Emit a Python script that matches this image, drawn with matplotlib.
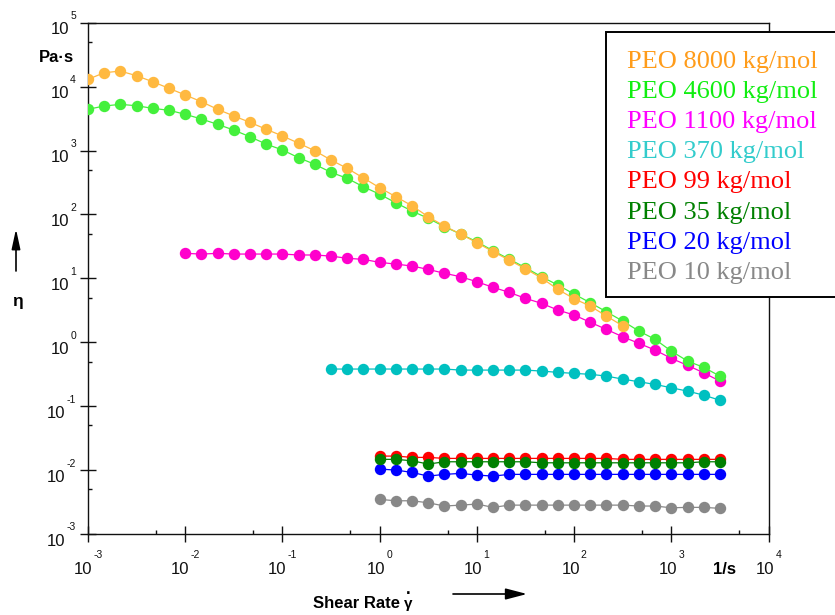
import matplotlib
matplotlib.use("Agg")
import matplotlib.pyplot as plt
from matplotlib.ticker import LogLocator, NullFormatter
from matplotlib.patches import Rectangle
from matplotlib.transforms import IdentityTransform

# ---------------------------------------------------------------- data
# shear-rate grid of the rheometer sweep (1/s), six points per decade
shear_rate = [1.00e-3, 1.47e-3, 2.15e-3, 3.16e-3, 4.64e-3, 6.81e-3,
              1.00e-2, 1.47e-2, 2.15e-2, 3.16e-2, 4.64e-2, 6.81e-2,
              0.100, 0.147, 0.215, 0.316, 0.464, 0.681,
              1.00, 1.47, 2.15, 3.16, 4.64, 6.81,
              10.0, 14.7, 21.5, 31.6, 46.4, 68.1,
              100.0, 147.0, 215.0, 316.0, 464.0, 681.0,
              1000.0, 1470.0, 2150.0, 3160.0]

# viscosity (Pa*s) of each PEO solution
eta_8000 = [13000, 16500, 17500, 14800, 11900, 9400, 7400, 5800, 4420, 3470,
            2760, 2150, 1690, 1300, 993, 710, 526, 372, 262, 189,
            137, 92.0, 65.8, 49.3, 36.1, 26.1, 19.3, 14.1, 10.1, 6.73,
            4.80, 3.68, 2.57, 1.81]
eta_4600 = [4420, 4970, 5280, 5020, 4570, 4260, 3690, 3110, 2570, 2090,
            1640, 1260, 1020, 771, 608, 456, 367, 271, 207, 152,
            113, 86.9, 64.3, 49.3, 37.4, 27.0, 20.0, 14.7, 10.6, 7.85,
            5.68, 4.15, 3.00, 2.15, 1.50, 1.11, 0.728, 0.508, 0.405, 0.296]
eta_1100 = [24.6, 24.0, 24.6, 24.0, 24.0, 24.0, 24.0, 23.2, 23.2, 22.3,
            20.6, 19.8, 17.8, 16.7, 15.6, 13.8, 12.0, 10.6, 8.85, 7.23,
            6.04, 4.86, 4.06, 3.19, 2.67, 2.05, 1.59, 1.22, 0.962, 0.755,
            0.560, 0.435, 0.333, 0.247]
eta_370 = [0.381, 0.381, 0.381, 0.381, 0.381, 0.381, 0.381, 0.381, 0.367, 0.367,
           0.367, 0.367, 0.367, 0.354, 0.338, 0.326, 0.315, 0.296, 0.265, 0.241,
           0.219, 0.194, 0.172, 0.149, 0.124]
eta_99 = [0.01656, 0.01656, 0.0158, 0.0158, 0.01524, 0.01524, 0.01524, 0.01524,
          0.01524, 0.01524, 0.01524, 0.01524, 0.01524, 0.01524, 0.01524,
          0.01472, 0.01472, 0.01472, 0.01472, 0.01472, 0.01472, 0.01472]
eta_35 = [0.01472, 0.01472, 0.0140, 0.01242, 0.01349, 0.01349, 0.01349, 0.01349,
          0.01349, 0.01349, 0.0130, 0.0130, 0.0130, 0.0130, 0.0130, 0.0130,
          0.0130, 0.0130, 0.0130, 0.0130, 0.01349, 0.01349]
eta_20 = [0.01038, 0.0100, 0.0092, 0.00805, 0.00857, 0.00887, 0.00836, 0.00805,
          0.00857, 0.00857, 0.00857, 0.00857, 0.00857, 0.00857, 0.00857, 0.00857,
          0.00857, 0.00857, 0.00857, 0.00857, 0.00857, 0.00857]
eta_10 = [0.00348, 0.00331, 0.00331, 0.00308, 0.00274, 0.00283, 0.00294, 0.00261,
          0.00283, 0.00283, 0.00283, 0.00283, 0.00283, 0.00283, 0.00283, 0.00283,
          0.00274, 0.00274, 0.00257, 0.00261, 0.00261, 0.00252]

labels = ["PEO 8000 kg/mol", "PEO 4600 kg/mol", "PEO 1100 kg/mol",
          "PEO 370 kg/mol", "PEO 99 kg/mol", "PEO 35 kg/mol",
          "PEO 20 kg/mol", "PEO 10 kg/mol"]
viscosities = [eta_8000, eta_4600, eta_1100, eta_370, eta_99, eta_35, eta_20, eta_10]
# first shear rate of each sweep
first_rate = [1.0e-3, 1.0e-3, 1.0e-2, 0.316, 1.0, 1.0, 1.0, 1.0]

x_exponents = [-3, -2, -1, 0, 1, 2, 3, 4]
y_exponents = [-3, -2, -1, 0, 1, 2, 3, 4, 5]

# ---------------------------------------------------------------- style
marker_colors = ["#FFB940", "#44F03C", "#FF00CC", "#00C0C0",
                 "#FF0000", "#008000", "#0000FF", "#888888"]
text_colors = ["#FF9C1A", "#11EE11", "#FF00FF", "#33CCCC",
               "#FF0000", "#008000", "#0000FF", "#888888"]
zorders = [5, 4, 3, 3, 3, 4, 3, 3]

W_PX, H_PX = 835, 615
SANS = "Liberation Sans"
SERIF = "Liberation Serif"

fig = plt.figure(figsize=(W_PX / 100, H_PX / 100), dpi=100)
ax_left, ax_right, ax_top, ax_bottom = 88, 768.5, 22.7, 534
ax = fig.add_axes([ax_left / W_PX, 1 - ax_bottom / H_PX,
                   (ax_right - ax_left) / W_PX, (ax_bottom - ax_top) / H_PX])
ax.set_xscale("log")
ax.set_yscale("log")
ax.set_xlim(1e-3, 1e4)
ax.set_ylim(1e-3, 1e5)

for spine in ax.spines.values():
    spine.set_linewidth(1.0)
    spine.set_color("#111111")

for axis in (ax.xaxis, ax.yaxis):
    axis.set_major_locator(LogLocator(base=10, numticks=20))
    axis.set_minor_locator(LogLocator(base=10, subs=[5.0], numticks=20))
    axis.set_major_formatter(NullFormatter())
    axis.set_minor_formatter(NullFormatter())
ax.tick_params(which="major", direction="inout", length=11.5, width=1.0,
               color="#111111", top=False, right=False)
ax.tick_params(which="minor", direction="in", length=3, width=1.0,
               color="#111111", top=False, right=False)

for name, eta, start, mc, z in zip(labels, viscosities, first_rate,
                                   marker_colors, zorders):
    i0 = min(range(len(shear_rate)), key=lambda i: abs(shear_rate[i] - start))
    rates = shear_rate[i0:i0 + len(eta)]
    ax.plot(rates, eta, "-o", color=mc, lw=0.9, ms=7.2, mec=mc, mfc=mc,
            zorder=z, label=name)

# ---------------------------------------------------------------- tick labels
fig.canvas.draw()
renderer = fig.canvas.get_renderer()
pix = IdentityTransform()


def power_label(base_size=12, exp_size=7.5):
    b = fig.text(0, 0, "10", transform=pix, fontsize=base_size, family=SANS,
                 ha="left", va="baseline", color="#111111")
    e = fig.text(0, 0, "", transform=pix, fontsize=exp_size, family=SANS,
                 ha="left", va="baseline", color="#111111")
    return b, e


for k in x_exponents:
    xt = ax.transData.transform((10.0 ** k, 1e-3))[0]
    b, e = power_label()
    e.set_text(str(k))
    wb = b.get_window_extent(renderer).width
    we = e.get_window_extent(renderer).width
    left = xt - (wb + we + 1.0) / 2
    b.set_position((left, H_PX - 573.5))
    e.set_position((left + wb + 1.0, H_PX - 558.5))

for k in y_exponents:
    yt = ax.transData.transform((1e-3, 10.0 ** k))[1]
    b, e = power_label()
    e.set_text(str(k))
    b.set_ha("right")
    e.set_ha("right")
    we = e.get_window_extent(renderer).width
    e.set_position((76, yt + 3.5))
    b.set_position((76 - we - 1.0, yt - 11.5))

# ---------------------------------------------------------------- axis titles
bold = dict(transform=pix, family=SANS, fontweight="bold", color="black")
fig.text(56.5, H_PX - 62, "Pa·s", fontsize=12, ha="center", va="baseline", **bold)
fig.text(725, H_PX - 574, "1/s", fontsize=12, ha="center", va="baseline", **bold)
fig.text(17, H_PX - 306, "η", fontsize=12.5, ha="center", va="baseline", **bold)
fig.text(313, H_PX - 608, "Shear Rate", fontsize=12, ha="left", va="baseline", **bold)
fig.text(408.5, H_PX - 608, "γ", fontsize=11, ha="center", va="baseline", **bold)
fig.text(408.5, H_PX - 594, ".", fontsize=12, ha="center", va="baseline", **bold)

ax.annotate("", xy=(16, H_PX - 229), xytext=(16, H_PX - 271),
            xycoords="figure pixels", textcoords="figure pixels",
            arrowprops=dict(arrowstyle="-|>,head_length=1.2,head_width=0.26",
                            mutation_scale=10, lw=1.2, color="black",
                            shrinkA=0, shrinkB=0))
ax.annotate("", xy=(527, H_PX - 594), xytext=(453, H_PX - 594),
            xycoords="figure pixels", textcoords="figure pixels",
            arrowprops=dict(arrowstyle="-|>,head_length=1.3,head_width=0.34",
                            mutation_scale=10, lw=1.2, color="black",
                            shrinkA=0, shrinkB=0))

# ---------------------------------------------------------------- legend box
box = Rectangle((606 / W_PX, 1 - 297 / H_PX), 260 / W_PX, 265 / H_PX,
                transform=fig.transFigure, facecolor="white",
                edgecolor="black", lw=1.4, zorder=10)
fig.add_artist(box)
for i, (name, tc) in enumerate(zip(labels, text_colors)):
    fig.text(627 / W_PX, 1 - (59.5 + 30.1 * i) / H_PX, name, color=tc,
             family=SERIF, fontsize=19, ha="left", va="center_baseline",
             zorder=11)

fig.savefig("out.png", dpi=100)
